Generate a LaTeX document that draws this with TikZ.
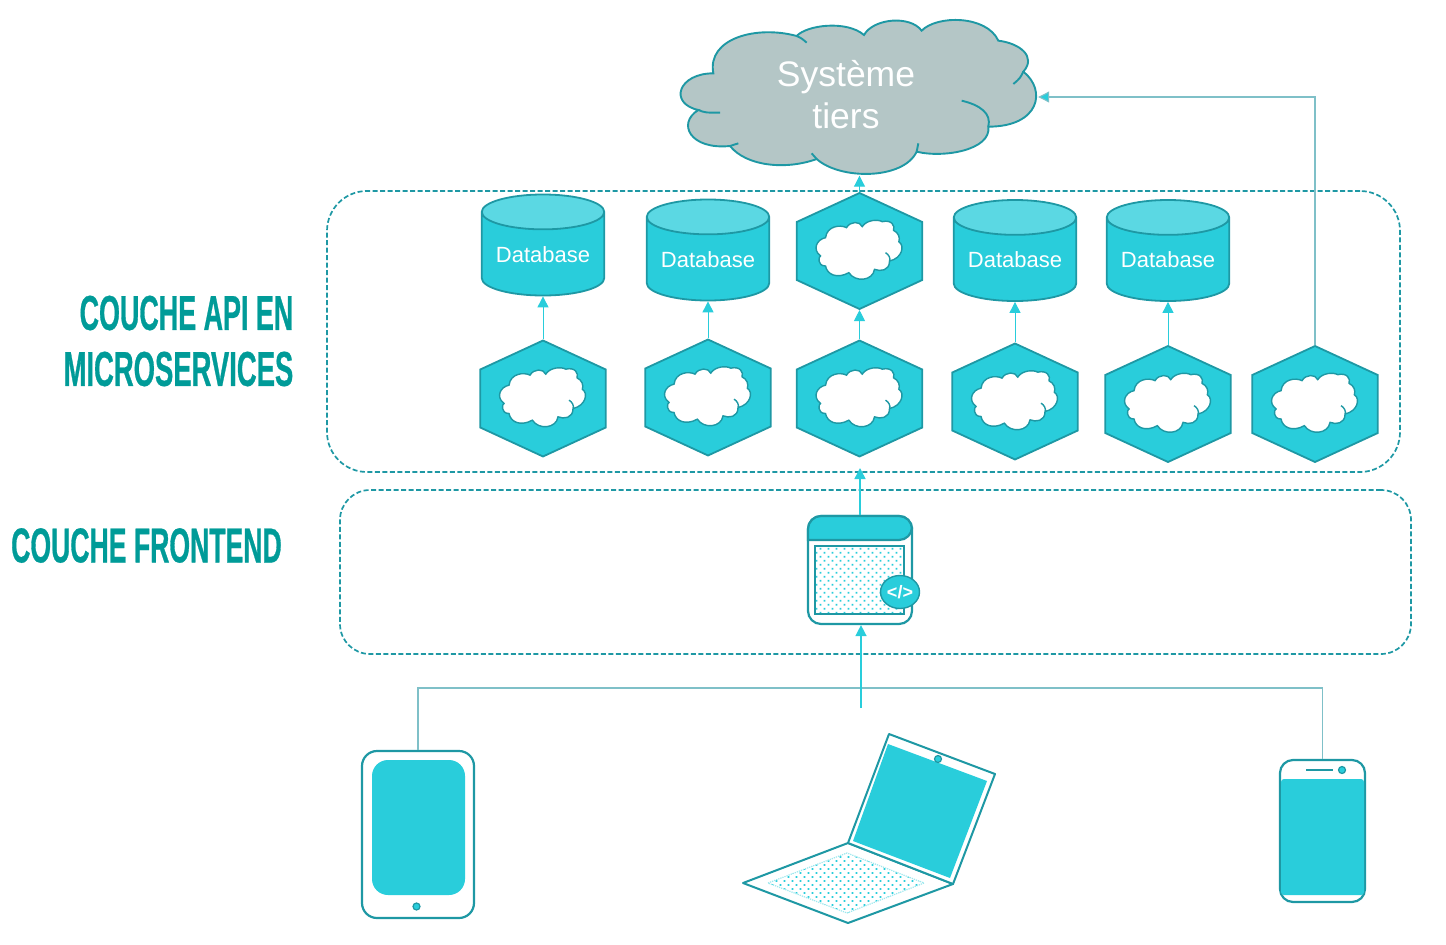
\documentclass[tikz,border=0pt]{standalone}
\usepackage{fontspec}
\setmainfont{Liberation Sans}
\newfontfamily\bebas[FakeStretch=0.56,FakeBold=0.6]{Liberation Sans Bold}
\usepackage{tikz}
\usetikzlibrary{positioning,shapes,calc,arrows.meta,patterns.meta}
\definecolor{cyanfill}{HTML}{29CDDB}
\definecolor{cyanlight}{HTML}{5BD8E3}
\definecolor{tealline}{HTML}{1E98A4}
\definecolor{wire}{HTML}{7FC0C8}
\definecolor{cloudgrey}{HTML}{B4C6C6}
\definecolor{labelteal}{HTML}{009B98}
\tikzset{
  small cloud/.pic={
    \draw[shift={(0.7,0)},scale=1/3,fill=white,draw=tealline,line width=1.4pt] (-104,-40)
      .. controls (-100,-75) and (-60,-80) .. (-41,-70)
      .. controls (-30,-90) and (0,-90) .. (6,-73)
      .. controls (20,-95) and (55,-95) .. (66,-88)
      .. controls (95,-95) and (105,-75) .. (100,-62)
      .. controls (115,-55) and (120,-40) .. (116,-28)
      .. controls (135,-15) and (125,22) .. (88,30)
      .. controls (88,60) and (60,62) .. (43,55)
      .. controls (38,90) and (-15,95) .. (-34,65)
      .. controls (-70,85) and (-100,70) .. (-104,45)
      .. controls (-130,45) and (-125,15) .. (-119,15)
      .. controls (-145,-5) and (-130,-35) .. (-104,-40) -- cycle
      (76,5) .. controls (85,10) and (92,22) .. (88,30);
  }
}
\begin{document}
\begin{tikzpicture}[x=1pt,y=-1pt,>={Triangle[width=11pt,length=11pt]},
            hex node/.style={regular polygon,regular polygon sides=6,shape border rotate=30,
              minimum size=116pt,inner sep=0pt,xscale=1.25,fill=cyanfill,draw=tealline,line width=1.8pt},
            db node/.style={cylinder,shape border rotate=90,shape aspect=0.37,anchor=shape center,
              minimum width=122.5pt,minimum height=101pt,inner sep=0pt,cylinder uses custom fill,
              cylinder body fill=cyanfill,cylinder end fill=cyanlight,draw=tealline,line width=1.8pt,
              text=white,font=\fontsize{22}{26}\selectfont},
            layer box/.style={rectangle,draw=tealline,line width=1.7pt,dash pattern=on 5pt off 2.5pt},
            layer label/.style={text=labelteal,font=\bebas\fontsize{49}{56}\selectfont,inner sep=0pt},
            flow/.style={->,draw=cyanfill,line width=1pt},
            main flow/.style={flow,line width=1.5pt},
            wire line/.style={draw=wire,line width=1.1pt},
            device/.style={rectangle,draw=tealline,fill=white,line width=2.2pt,inner sep=0pt},
            screen/.style={rectangle,fill=cyanfill,inner sep=0pt},
            lens/.style={circle,fill=cyanfill,draw=tealline,line width=1.2pt,minimum size=7pt,inner sep=0pt},
            dotted fill/.style={pattern={Dots[angle=45,distance=5.66pt,radius=1.2pt]},pattern color=cyanfill}]
  \useasboundingbox (0,0) rectangle (1446,945);

  \node[layer box,minimum width=1073pt,minimum height=281pt,rounded corners=40pt] (api box) at (863.5,331.5) {};
  \node[layer box,minimum width=1071pt,minimum height=164pt,rounded corners=30pt] (front box) at (875.5,572) {};
  \node[layer label,anchor=east,align=right] (api label) at (293.5,341) {\scalebox{0.98}[1]{COUCHE API EN}\\MICROSERVICES};
  \node[layer label,anchor=west,xscale=0.97] (front label) at (11,545.5) {COUCHE FRONTEND};

  % third party system
  \begin{scope}[shift={(670,10)},scale=1/3]
    \draw[fill=cloudgrey,draw=tealline,line width=1.9pt] (130,190)
      .. controls (110,85) and (260,45) .. (380,78)
      .. controls (410,45) and (530,30) .. (582,75)
      .. controls (610,25) and (720,15) .. (755,62)
      .. controls (800,15) and (950,15) .. (985,92)
      .. controls (1050,100) and (1100,140) .. (1060,185)
      .. controls (1130,240) and (1110,350) .. (955,350)
      .. controls (965,420) and (820,445) .. (740,425)
      .. controls (700,510) and (510,510) .. (440,447)
      .. controls (350,480) and (230,470) .. (180,408)
      .. controls (60,420) and (20,340) .. (85,300)
      .. controls (-5,280) and (25,190) .. (130,190) -- cycle;
    \draw[draw=tealline,line width=1.9pt] (380,78) .. controls (395,85) .. (410,98)
      (1060,185) .. controls (1050,205) .. (1030,222)
      (875,272) .. controls (930,285) and (965,310) .. (955,350)
      (740,425) -- (745,400)
      (440,447) -- (425,430)
      (180,408) -- (205,400)
      (85,300) .. controls (105,308) .. (150,308);
  \end{scope}
  \node[minimum width=358pt,minimum height=157pt,inner sep=0pt] (sys) at (859,97) {};
  \node[text=white,align=center,font=\fontsize{35.5}{42}\selectfont] (sys text) at (846,94.5) {Système\\tiers};

  \node[db node] (db1) at (543,245) {Database};
  \node[db node] (db2) at (708,250) {Database};
  \node[db node] (db3) at (1015,250.5) {Database};
  \node[db node] (db4) at (1168,250.5) {Database};

  \node[hex node] (h0) at (859.5,251) {};
  \node[hex node] (h1) at (543,398.5) {};
  \node[hex node] (h2) at (708,397.5) {};
  \node[hex node] (h3) at (859.5,398.5) {};
  \node[hex node] (h4) at (1015,401.5) {};
  \node[hex node] (h5) at (1168,404) {};
  \node[hex node] (h6) at (1315,404) {};
  \pic at (h0) {small cloud};
  \pic at (h1) {small cloud};
  \pic at (h2) {small cloud};
  \pic at (h3) {small cloud};
  \pic at (h4) {small cloud};
  \pic at (h5) {small cloud};
  \pic at (h6) {small cloud};

  % web application
  \node[device,minimum width=104pt,minimum height=108pt,rounded corners=13pt] (app) at (860,570) {};
  \fill[cyanfill,draw=tealline,line width=2.2pt,rounded corners=13pt] (808,540) -- (808,516) -- (912,516) -- (912,540) [sharp corners] -- cycle;
  \node[device,minimum width=89pt,minimum height=68pt,dotted fill] (app view) at (859.5,580) {};
  \node[ellipse,fill=cyanfill,draw=tealline,line width=1.4pt,minimum width=39pt,minimum height=33pt,inner sep=0pt,
    text=white,font=\bfseries\fontsize{18}{18}\selectfont] (app badge) at (900,592) {</>};

  % devices
  \node[device,minimum width=112pt,minimum height=167pt,rounded corners=15pt] (tablet) at (418,834.5) {};
  \node[screen,minimum width=93pt,minimum height=135pt,rounded corners=16pt] (tablet screen) at (418.5,827.5) {};
  \node[lens] (tablet button) at (416.5,906.5) {};
  \node[device,minimum width=85pt,minimum height=142pt,rounded corners=13pt] (phone) at (1322.5,831) {};
  \node[screen,minimum width=83pt,minimum height=116pt,rounded corners=3pt] (phone screen) at (1322.5,837) {};
  \node[lens] (phone lens) at (1342,770) {};
  \coordinate (speaker left) at (1306,770);
  \coordinate (speaker right) at (1333,770);
  \draw[draw=tealline,line width=2pt] (speaker left) -- (speaker right);

  \draw[fill=white,draw=tealline,line width=2pt,line join=round] (743,883) -- (848,843) -- (953,884) -- (848,923) -- cycle;
  \draw[dotted fill,draw=cyanlight!60,densely dotted,line width=1.2pt] (768,883) -- (847,853) -- (924,883) -- (847,913) -- cycle;
  \draw[fill=white,draw=tealline,line width=2pt,line join=round] (848,843) -- (889,734) -- (995,774) -- (953,884) -- cycle;
  \fill[cyanfill] (853,841) -- (888,744) -- (987,781) -- (950,878) -- cycle;
  \node[lens] (laptop lens) at (938,759) {};

  % connectors
  \coordinate (api in) at (860,468);
  \coordinate (hub) at (861,708);
  \coordinate (fork) at (861,688);
  \draw[wire line] (tablet.north) |- (fork);
  \draw[wire line] (phone.north) |- (fork);
  \draw[flow] (h1.north) -- (db1.south);
  \draw[flow] (h2.north) -- (db2.south);
  \draw[flow] (h3.north) -- (h0.south);
  \draw[flow] (h4.north) -- (db3.south);
  \draw[flow] (h5.north) -- (db4.south);
  \draw[flow] (h0.north) -- (h0.north |- sys.south);
  \draw[wire line,->,>={Triangle[width=11pt,length=11pt,fill=cyanfill]}] (h6.north) |- (sys.east);
  \draw[main flow] (app.north -| api in) -- (api in);
  \draw[main flow] (hub) -- (hub |- app.south);
\end{tikzpicture}
\end{document}
